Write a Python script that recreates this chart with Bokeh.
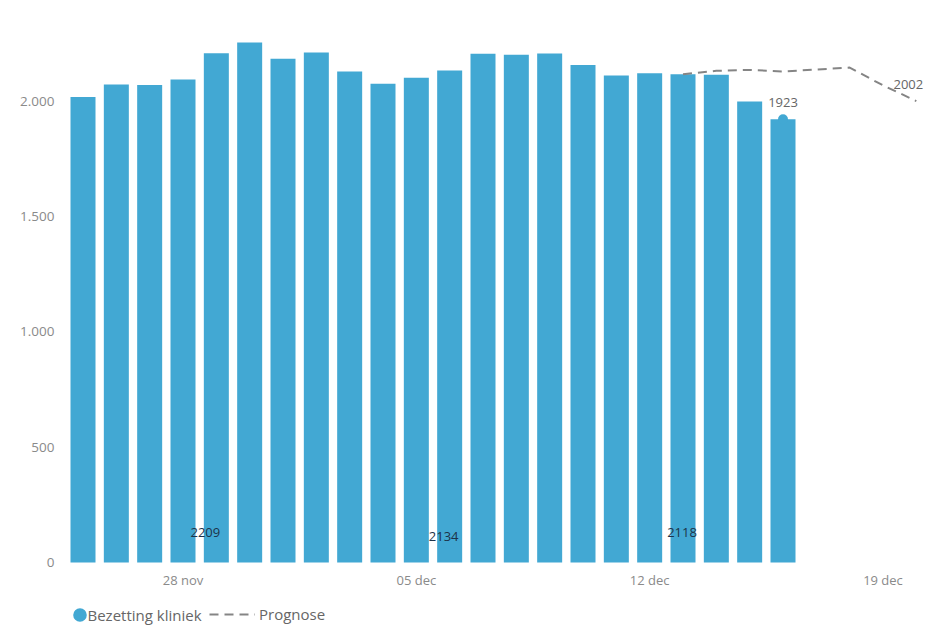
from bokeh.plotting import figure
from bokeh.models import Range1d, FixedTicker, Legend, LegendItem
from bokeh.core.properties import value
from bokeh.embed import file_html
from bokeh.resources import INLINE

# ---- data ----
day_labels = ["25 nov", "26 nov", "27 nov", "28 nov", "29 nov", "30 nov", "01 dec",
              "02 dec", "03 dec", "04 dec", "05 dec", "06 dec", "07 dec", "08 dec",
              "09 dec", "10 dec", "11 dec", "12 dec", "13 dec", "14 dec", "15 dec",
              "16 dec", "17 dec", "18 dec", "19 dec", "20 dec"]
bar_values = [2019, 2074, 2072, 2095, 2209, 2256, 2185, 2213, 2130, 2077, 2103,
              2134, 2207, 2203, 2208, 2158, 2113, 2122, 2118, 2116, 2000, 1923]
forecast_start = 18
forecast_values = [2118, 2133, 2137, 2130, 2139, 2147, 2070, 2002]
tick_labels = ["28 nov", "05 dec", "12 dec", "19 dec"]
y_ticks = [0, 500, 1000, 1500, 2000]
y_tick_labels = ["0", "500", "1.000", "1.500", "2.000"]
monday_labels = ["29 nov", "06 dec", "13 dec"]
monday_values = [2209, 2134, 2118]

# ---- styling ----
BLUE = "#42a8d3"
FONT = "Open Sans"
monday_dx = [-11, -6, -1]     # screen-pixel nudges of the small dark labels
monday_dy = [-30, -26, -30]

bar_x = list(range(len(bar_values)))
fc_x = [forecast_start + i for i in range(len(forecast_values))]
tick_x = [day_labels.index(t) for t in tick_labels]
mon_x = [day_labels.index(t) for t in monday_labels]

# frame: page x 60..930, page y 22..626 ; value 0 sits at page y 562
p = figure(width=931, height=626, output_backend="svg", toolbar_location=None,
           x_range=Range1d(-0.675, 25.425), y_range=Range1d(-277.7, 2342.7),
           min_border_left=60, min_border_right=1, min_border_top=22,
           min_border_bottom=0)
p.outline_line_color = None
p.xgrid.visible = False
p.ygrid.visible = False
p.background_fill_color = "white"
p.border_fill_color = "white"

bars = p.vbar(x=bar_x, top=bar_values, width=0.75, fill_color=BLUE, line_color=None)

fc = p.line(x=fc_x, y=forecast_values, line_color="#858585", line_width=2,
            line_dash="9 6")

last_i = len(bar_values) - 1
dot = p.ellipse(x=[bar_x[last_i]], y=[bar_values[last_i]], width=10, height=10,
                width_units="screen", height_units="screen",
                fill_color=BLUE, line_color=None)

# value labels
p.text(x=[bar_x[last_i]], y=[bar_values[last_i]], text=[str(bar_values[last_i])],
       text_font=value(FONT), text_font_size="13px", text_color="#666666",
       text_align="center", text_baseline="middle", y_offset=-17)
p.text(x=[fc_x[-1]], y=[forecast_values[-1]], text=[str(forecast_values[-1])],
       text_font=value(FONT), text_font_size="13px", text_color="#666666",
       text_align="center", text_baseline="middle", x_offset=-8, y_offset=-17)
p.text(x=mon_x, y=[0] * len(mon_x), text=[str(v) for v in monday_values],
       text_font=value(FONT), text_font_size="13px", text_color="#1d3349",
       text_align="center", text_baseline="middle",
       x_offset=monday_dx, y_offset=monday_dy)

# axes
for ax in (p.xaxis[0], p.yaxis[0]):
    ax.axis_line_color = None
    ax.major_tick_line_color = None
    ax.minor_tick_line_color = None
    ax.major_tick_out = 0
    ax.major_tick_in = 0
    ax.minor_tick_out = 0
    ax.major_label_text_font = FONT
    ax.major_label_text_color = "#8a8a8a"

p.xaxis.major_label_text_font_size = "13px"
p.yaxis.major_label_text_font_size = "13.5px"
p.xaxis.fixed_location = 0
p.xaxis.ticker = FixedTicker(ticks=tick_x)
p.xaxis.major_label_overrides = {x: l for x, l in zip(tick_x, tick_labels)}
p.xaxis.major_label_standoff = 9
p.yaxis.ticker = FixedTicker(ticks=y_ticks)
p.yaxis.major_label_overrides = {t: l for t, l in zip(y_ticks, y_tick_labels)}
p.yaxis.major_label_standoff = 6

# legends
def style_legend(lg):
    lg.padding = 0
    lg.margin = 0
    lg.spacing = 0
    lg.background_fill_alpha = 0
    lg.border_line_alpha = 0
    lg.label_text_font = FONT
    lg.label_text_font_size = "15px"
    lg.label_text_color = "#666666"
    lg.orientation = "horizontal"

lg1 = Legend(items=[LegendItem(label="Bezetting kliniek", renderers=[dot])],
             location=(10.5, 1.5), glyph_width=17, glyph_height=17, label_standoff=0,
             label_height=16)
style_legend(lg1)
lg2 = Legend(items=[LegendItem(label="Prognose", renderers=[fc])],
             location=(149, 2), glyph_width=46, glyph_height=16, label_standoff=4,
             label_height=16)
style_legend(lg2)
p.add_layout(lg1, "center")
p.add_layout(lg2, "center")

open("out.html", "w").write(file_html(p, INLINE))
